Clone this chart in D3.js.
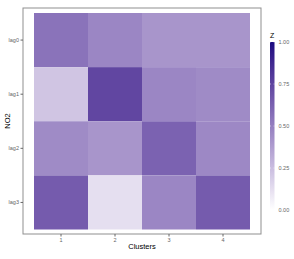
<!DOCTYPE html>
<html>
<head>
<meta charset="utf-8">
<script src="https://cdn.jsdelivr.net/npm/d3@7"></script>
<style>
  body { margin: 0; background: #fff; }
  text { font-family: "Liberation Sans", Arial, sans-serif; }
</style>
</head>
<body>
<script>
// categories
var clusters = ["1", "2", "3", "4"];
var lags = ["lag0", "lag1", "lag2", "lag3"];
// Z values, one row per lag, one column per cluster
var zLag0 = [0.55, 0.47, 0.41, 0.41];
var zLag1 = [0.22, 0.74, 0.47, 0.45];
var zLag2 = [0.45, 0.41, 0.62, 0.46];
var zLag3 = [0.65, 0.12, 0.47, 0.65];
var legendTicks = [0, 0.25, 0.5, 0.75, 1];

var zRows = [zLag0, zLag1, zLag2, zLag3];
var cells = [];
lags.forEach(function(lag, i) {
  clusters.forEach(function(c, j) {
    cells.push({lag: lag, cluster: c, z: zRows[i][j]});
  });
});

var W = 294, H = 259;
var panel = {left: 23, top: 8, right: 261, bottom: 234};
var pad = 11;

var svg = d3.select("body").append("svg")
    .attr("width", W)
    .attr("height", H);

var x = d3.scaleBand()
    .domain(clusters)
    .range([panel.left + pad, panel.right - pad]);
var y = d3.scaleBand()
    .domain(lags)
    .range([panel.top + 5, panel.bottom - 4.5]);

var color = d3.scaleLinear()
    .domain([0, 1])
    .range(["#ffffff", "#1a0a80"])
    .interpolate(d3.interpolateLab);

// tiles
svg.append("g").selectAll("rect")
    .data(cells)
    .enter()
    .append("rect")
    .attr("x", function(d) { return x(d.cluster); })
    .attr("y", function(d) { return y(d.lag); })
    .attr("width", x.bandwidth())
    .attr("height", y.bandwidth())
    .attr("fill", function(d) { return color(d.z); });

// panel border
svg.append("rect")
    .attr("x", panel.left)
    .attr("y", panel.top)
    .attr("width", panel.right - panel.left)
    .attr("height", panel.bottom - panel.top)
    .attr("fill", "none")
    .attr("stroke", "#8f8f8f")
    .attr("stroke-width", 1);

// axes
var xAxis = svg.append("g")
    .attr("transform", "translate(0," + panel.bottom + ")")
    .call(d3.axisBottom(x).tickSize(2.5).tickPadding(1.5));
var yAxis = svg.append("g")
    .attr("transform", "translate(" + panel.left + ",0)")
    .call(d3.axisLeft(y).tickSize(2.5).tickPadding(1.5));
[xAxis, yAxis].forEach(function(a) {
  a.select(".domain").remove();
  a.selectAll(".tick line").attr("stroke", "#666");
  a.selectAll(".tick text")
    .attr("fill", "#666")
    .style("font-size", "5.5px");
});

// axis titles
svg.append("text")
    .attr("x", (panel.left + panel.right) / 2)
    .attr("y", 249)
    .attr("text-anchor", "middle")
    .style("font-size", "7.5px")
    .text("Clusters");
svg.append("text")
    .attr("transform", "translate(10," + (panel.top + panel.bottom) / 2 + ") rotate(-90)")
    .attr("text-anchor", "middle")
    .style("font-size", "7.5px")
    .text("NO2");

// colour bar legend
var bar = {x: 270, w: 4.5, top: 42, bottom: 210};
var defs = svg.append("defs");
var grad = defs.append("linearGradient")
    .attr("id", "zgrad")
    .attr("x1", 0).attr("y1", 1).attr("x2", 0).attr("y2", 0);
d3.range(0, 1.0001, 0.05).forEach(function(t) {
  grad.append("stop")
      .attr("offset", t)
      .attr("stop-color", color(t));
});
var ly = d3.scaleLinear().domain([0, 1]).range([bar.bottom, bar.top]);
svg.append("rect")
    .attr("x", bar.x)
    .attr("y", bar.top)
    .attr("width", bar.w)
    .attr("height", bar.bottom - bar.top)
    .attr("fill", "url(#zgrad)");
var lg = svg.append("g");
lg.selectAll("line.l")
    .data(legendTicks)
    .enter()
    .append("line")
    .attr("x1", bar.x).attr("x2", bar.x + 1)
    .attr("y1", ly).attr("y2", ly)
    .attr("stroke", "#fff").attr("stroke-width", 0.5);
lg.selectAll("line.r")
    .data(legendTicks)
    .enter()
    .append("line")
    .attr("x1", bar.x + bar.w - 1).attr("x2", bar.x + bar.w)
    .attr("y1", ly).attr("y2", ly)
    .attr("stroke", "#fff").attr("stroke-width", 0.5);
lg.selectAll("text")
    .data(legendTicks)
    .enter()
    .append("text")
    .attr("x", bar.x + bar.w + 4)
    .attr("y", ly)
    .attr("dy", "0.35em")
    .attr("fill", "#666")
    .style("font-size", "5.5px")
    .text(function(d) { return d3.format(".2f")(d); });
svg.append("text")
    .attr("x", bar.x)
    .attr("y", 38)
    .style("font-size", "7px")
    .text("Z");
</script>
</body>
</html>
